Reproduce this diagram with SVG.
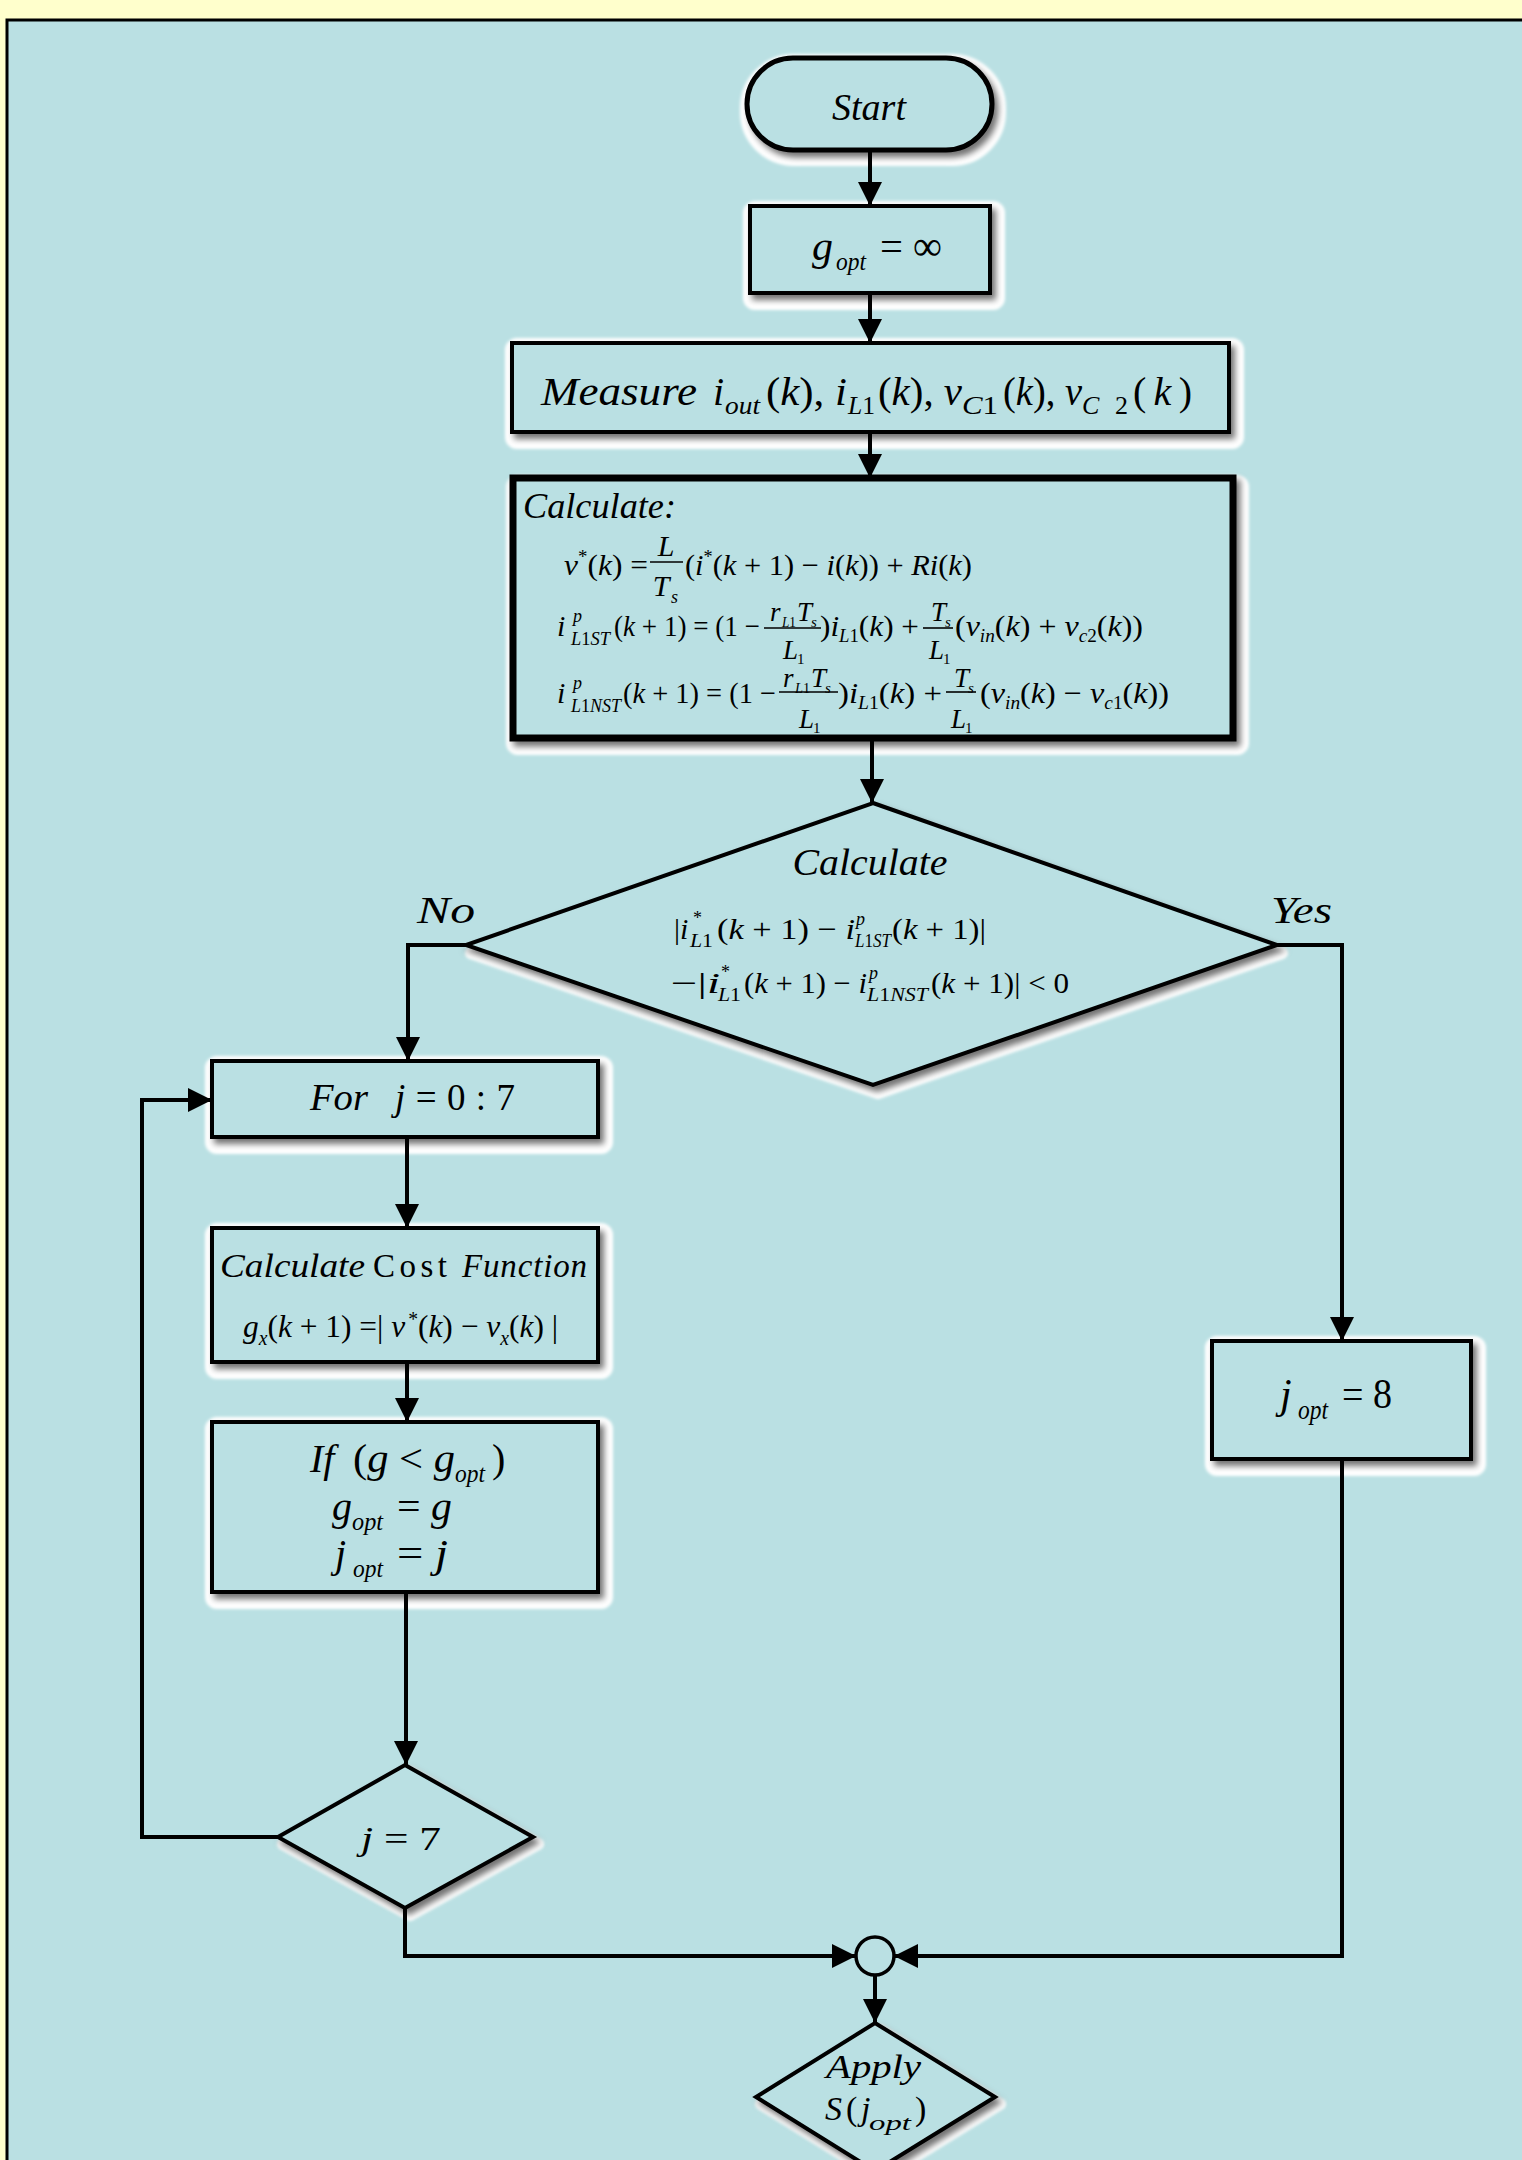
<svg xmlns="http://www.w3.org/2000/svg" width="1522" height="2160" viewBox="0 0 1522 2160">
<defs>
<style>
.m{font-family:"Liberation Serif","Times New Roman",serif;fill:#000}
.i{font-style:italic}
.shape{fill:#BAE0E3;stroke:#000;stroke-width:4;filter:url(#ds)}
.halo{fill:#fff;stroke:#fff;stroke-width:12;stroke-linejoin:round;filter:url(#hb)}
.conn{fill:none;stroke:#000;stroke-width:4}
.bar{stroke:#000;stroke-width:1.6}
</style>
<filter id="ds" x="-10%" y="-10%" width="130%" height="140%"><feDropShadow dx="4" dy="5" stdDeviation="3" flood-color="#000" flood-opacity="0.55"/></filter>
<filter id="hb" x="-10%" y="-10%" width="130%" height="140%"><feGaussianBlur stdDeviation="1.5"/></filter>
<marker id="ah" viewBox="0 0 24 24" refX="24" refY="12" markerWidth="24" markerHeight="24" markerUnits="userSpaceOnUse" orient="auto"><path d="M0,0 L24,12 L0,24 z" fill="#000"/></marker>
</defs>
<rect x="0" y="0" width="1522" height="2160" fill="#FFFFCC"/>
<rect x="7" y="20" width="1530" height="2160" fill="#BAE0E3" stroke="#000" stroke-width="3"/>

<g id="start">
<rect class="halo" x="746" y="60" width="254" height="100" rx="48"/>
<rect class="shape" x="747" y="58" width="245" height="92" rx="46" style="stroke-width:5"/>
<text class="m i" x="869" y="120" font-size="38" text-anchor="middle">Start</text>
</g>

<g id="gopt-init">
<rect class="halo" x="749" y="207" width="250" height="97" rx="6"/>
<rect class="shape" x="750" y="206" width="240" height="87"/>
<text class="m i" x="812" y="260" font-size="42">g</text>
<text class="m i" x="836" y="270" font-size="26" textLength="30" lengthAdjust="spacingAndGlyphs">opt</text>
<text class="m" x="880" y="260" font-size="42" textLength="62" lengthAdjust="spacingAndGlyphs">= ∞</text>
</g>

<g id="measure">
<rect class="halo" x="511" y="344" width="727" height="99" rx="6"/>
<rect class="shape" x="512" y="343" width="717" height="89"/>
<text class="m i" x="541" y="405" font-size="40" textLength="156" lengthAdjust="spacingAndGlyphs">Measure</text>
<text class="m i" x="713" y="405" font-size="40">i</text>
<text class="m i" x="725" y="414" font-size="26" textLength="35" lengthAdjust="spacingAndGlyphs">out</text>
<text class="m" x="766" y="405" font-size="40" textLength="81" lengthAdjust="spacingAndGlyphs">(<tspan class="i">k</tspan>), <tspan class="i">i</tspan></text>
<text class="m" x="848" y="414" font-size="26" textLength="27" lengthAdjust="spacingAndGlyphs"><tspan class="i">L</tspan>1</text>
<text class="m" x="878" y="405" font-size="40" textLength="84" lengthAdjust="spacingAndGlyphs">(<tspan class="i">k</tspan>), <tspan class="i">v</tspan></text>
<text class="m i" x="962" y="414" font-size="26" textLength="36" lengthAdjust="spacingAndGlyphs">C<tspan style="font-style:normal">1</tspan></text>
<text class="m" x="1003" y="405" font-size="40" textLength="79" lengthAdjust="spacingAndGlyphs">(<tspan class="i">k</tspan>), <tspan class="i">v</tspan></text>
<text class="m i" x="1082" y="414" font-size="26" textLength="46" lengthAdjust="spacing">C <tspan style="font-style:normal">2</tspan></text>
<text class="m" x="1133" y="405" font-size="40" textLength="59" lengthAdjust="spacing">(<tspan class="i">k</tspan>)</text>
</g>

<g id="calculate">
<rect class="halo" x="512" y="481" width="731" height="268" rx="6"/>
<rect class="shape" x="513" y="478" width="720" height="260" style="stroke-width:7"/>
<text class="m i" x="523" y="518" font-size="36" textLength="153" lengthAdjust="spacingAndGlyphs">Calculate:</text>
<!-- eq 1 -->
<text class="m" x="564" y="575" font-size="30" textLength="84" lengthAdjust="spacingAndGlyphs"><tspan class="i">v</tspan><tspan dy="-12" font-size="18">*</tspan><tspan dy="12">(</tspan><tspan class="i">k</tspan>) =</text>
<text class="m i" x="666" y="556" font-size="30" text-anchor="middle">L</text>
<line class="bar" x1="650" y1="562" x2="683" y2="562"/>
<text class="m i" x="661" y="596" font-size="30" text-anchor="middle">T</text>
<text class="m i" x="671" y="603" font-size="18">s</text>
<text class="m" x="685" y="575" font-size="30" textLength="287" lengthAdjust="spacingAndGlyphs">(<tspan class="i">i</tspan><tspan dy="-12" font-size="18">*</tspan><tspan dy="12">(</tspan><tspan class="i">k</tspan> + 1) − <tspan class="i">i</tspan>(<tspan class="i">k</tspan>)) + <tspan class="i">Ri</tspan>(<tspan class="i">k</tspan>)</text>
<!-- eq 2 -->
<text class="m i" x="557" y="636" font-size="30">i</text>
<text class="m i" x="573" y="622" font-size="18">p</text>
<text class="m i" x="571" y="645" font-size="18" textLength="39" lengthAdjust="spacingAndGlyphs">L<tspan style="font-style:normal">1</tspan>ST</text>
<text class="m" x="614" y="636" font-size="30" textLength="146" lengthAdjust="spacingAndGlyphs">(<tspan class="i">k</tspan> + 1) = (1 −</text>
<text class="m i" x="770" y="621" font-size="27">r</text>
<text class="m" x="782" y="627" font-size="15" textLength="14" lengthAdjust="spacingAndGlyphs"><tspan class="i">L</tspan>1</text>
<text class="m i" x="797" y="621" font-size="27">T</text>
<text class="m i" x="811" y="627" font-size="15">s</text>
<line class="bar" x1="764" y1="628" x2="821" y2="628"/>
<text class="m i" x="783" y="659" font-size="27">L</text>
<text class="m" x="797" y="664" font-size="15">1</text>
<text class="m" x="820" y="636" font-size="30" textLength="99" lengthAdjust="spacingAndGlyphs">)<tspan class="i">i</tspan><tspan dy="6" font-size="18"><tspan class="i">L</tspan>1</tspan><tspan dy="-6">(</tspan><tspan class="i">k</tspan>) +</text>
<text class="m i" x="931" y="621" font-size="27">T</text>
<text class="m i" x="945" y="627" font-size="15">s</text>
<line class="bar" x1="923" y1="628" x2="953" y2="628"/>
<text class="m i" x="929" y="659" font-size="27">L</text>
<text class="m" x="943" y="664" font-size="15">1</text>
<text class="m" x="955" y="636" font-size="30" textLength="188" lengthAdjust="spacingAndGlyphs">(<tspan class="i">v</tspan><tspan class="i" dy="6" font-size="18">in</tspan><tspan dy="-6">(</tspan><tspan class="i">k</tspan>) + <tspan class="i">v</tspan><tspan dy="6" font-size="18"><tspan class="i">c</tspan>2</tspan><tspan dy="-6">(</tspan><tspan class="i">k</tspan>))</text>
<!-- eq 3 -->
<text class="m i" x="557" y="703" font-size="30">i</text>
<text class="m i" x="573" y="689" font-size="18">p</text>
<text class="m i" x="571" y="712" font-size="18" textLength="50" lengthAdjust="spacingAndGlyphs">L<tspan style="font-style:normal">1</tspan>NST</text>
<text class="m" x="623" y="703" font-size="30" textLength="153" lengthAdjust="spacingAndGlyphs">(<tspan class="i">k</tspan> + 1) = (1 −</text>
<text class="m i" x="783" y="687" font-size="27">r</text>
<text class="m" x="795" y="693" font-size="15" textLength="15" lengthAdjust="spacingAndGlyphs"><tspan class="i">L</tspan>1</text>
<text class="m i" x="811" y="687" font-size="27">T</text>
<text class="m i" x="825" y="693" font-size="15">s</text>
<line class="bar" x1="779" y1="692" x2="838" y2="692"/>
<text class="m i" x="799" y="728" font-size="27">L</text>
<text class="m" x="813" y="733" font-size="15">1</text>
<text class="m" x="838" y="703" font-size="30" textLength="104" lengthAdjust="spacingAndGlyphs">)<tspan class="i">i</tspan><tspan dy="6" font-size="18"><tspan class="i">L</tspan>1</tspan><tspan dy="-6">(</tspan><tspan class="i">k</tspan>) +</text>
<text class="m i" x="954" y="687" font-size="27">T</text>
<text class="m i" x="968" y="693" font-size="15">s</text>
<line class="bar" x1="946" y1="692" x2="976" y2="692"/>
<text class="m i" x="951" y="728" font-size="27">L</text>
<text class="m" x="965" y="733" font-size="15">1</text>
<text class="m" x="980" y="703" font-size="30" textLength="189" lengthAdjust="spacingAndGlyphs">(<tspan class="i">v</tspan><tspan class="i" dy="6" font-size="18">in</tspan><tspan dy="-6">(</tspan><tspan class="i">k</tspan>) − <tspan class="i">v</tspan><tspan dy="6" font-size="18"><tspan class="i">c</tspan>1</tspan><tspan dy="-6">(</tspan><tspan class="i">k</tspan>))</text>
</g>

<g id="decision">
<polygon class="halo" points="878,811 1282,953 878,1093 471,953"/>
<polygon class="shape" points="873,803 1277,945 873,1085 466,945"/>
<text class="m i" x="870" y="875" font-size="38" text-anchor="middle" textLength="155" lengthAdjust="spacingAndGlyphs">Calculate</text>
<text class="m" x="674" y="939" font-size="30">|<tspan class="i">i</tspan></text>
<text class="m" x="693" y="924" font-size="18">*</text>
<text class="m" x="690" y="947" font-size="18" textLength="23" lengthAdjust="spacingAndGlyphs"><tspan class="i">L</tspan>1</text>
<text class="m" x="717" y="939" font-size="30" textLength="138" lengthAdjust="spacingAndGlyphs">(<tspan class="i">k</tspan> + 1) − <tspan class="i">i</tspan></text>
<text class="m i" x="856" y="925" font-size="18">p</text>
<text class="m i" x="855" y="947" font-size="18" textLength="36" lengthAdjust="spacingAndGlyphs">L<tspan style="font-style:normal">1</tspan>ST</text>
<text class="m" x="892" y="939" font-size="30" textLength="94" lengthAdjust="spacingAndGlyphs">(<tspan class="i">k</tspan> + 1)|</text>
<text class="m" x="671" y="993" font-size="30" textLength="49" lengthAdjust="spacingAndGlyphs">−|<tspan class="i">i</tspan></text>
<text class="m" x="721" y="978" font-size="18">*</text>
<text class="m" x="718" y="1001" font-size="18" textLength="23" lengthAdjust="spacingAndGlyphs"><tspan class="i">L</tspan>1</text>
<text class="m" x="744" y="993" font-size="30" textLength="123" lengthAdjust="spacingAndGlyphs">(<tspan class="i">k</tspan> + 1) − <tspan class="i">i</tspan></text>
<text class="m i" x="869" y="979" font-size="18">p</text>
<text class="m i" x="867" y="1001" font-size="18" textLength="61" lengthAdjust="spacingAndGlyphs">L<tspan style="font-style:normal">1</tspan>NST</text>
<text class="m" x="931" y="993" font-size="30" textLength="138" lengthAdjust="spacingAndGlyphs">(<tspan class="i">k</tspan> + 1)| &lt; 0</text>
</g>

<g id="label-no"><text class="m i" x="417" y="923" font-size="38" textLength="58" lengthAdjust="spacingAndGlyphs">No</text></g>
<g id="label-yes"><text class="m i" x="1271" y="923" font-size="38" textLength="61" lengthAdjust="spacingAndGlyphs">Yes</text></g>

<g id="for-loop">
<rect class="halo" x="211" y="1062" width="396" height="86" rx="6"/>
<rect class="shape" x="212" y="1061" width="386" height="76"/>
<text class="m i" x="310" y="1110" font-size="37" textLength="58" lengthAdjust="spacingAndGlyphs">For</text>
<text class="m" x="395" y="1110" font-size="37" textLength="120" lengthAdjust="spacing"><tspan class="i">j</tspan> = 0 : 7</text>
</g>

<g id="cost">
<rect class="halo" x="211" y="1229" width="396" height="144" rx="6"/>
<rect class="shape" x="212" y="1228" width="386" height="134"/>
<text class="m i" x="220" y="1277" font-size="33" textLength="145" lengthAdjust="spacingAndGlyphs">Calculate</text>
<text class="m" x="373" y="1277" font-size="33" textLength="74" lengthAdjust="spacing">Cost</text>
<text class="m i" x="462" y="1277" font-size="33" textLength="125" lengthAdjust="spacing">Function</text>
<text class="m" x="243" y="1337" font-size="32" textLength="315" lengthAdjust="spacingAndGlyphs"><tspan class="i">g</tspan><tspan class="i" dy="8" font-size="20">x</tspan><tspan dy="-8">(</tspan><tspan class="i">k</tspan> + 1) =|<tspan class="i" dx="8">v</tspan><tspan dx="3" dy="-11" font-size="20">*</tspan><tspan dy="11">(</tspan><tspan class="i">k</tspan>) − <tspan class="i">v</tspan><tspan class="i" dy="8" font-size="20">x</tspan><tspan dy="-8">(</tspan><tspan class="i">k</tspan>) |</text>
</g>

<g id="if-block">
<rect class="halo" x="211" y="1423" width="396" height="180" rx="6"/>
<rect class="shape" x="212" y="1422" width="386" height="170"/>
<text class="m i" x="310" y="1472" font-size="40">If</text>
<text class="m" x="353" y="1472" font-size="40" textLength="102" lengthAdjust="spacingAndGlyphs">(<tspan class="i">g</tspan> &lt; <tspan class="i">g</tspan></text>
<text class="m i" x="455" y="1482" font-size="26" textLength="30" lengthAdjust="spacingAndGlyphs">opt</text>
<text class="m" x="492" y="1472" font-size="40">)</text>
<text class="m i" x="332" y="1520" font-size="40">g</text>
<text class="m i" x="352" y="1530" font-size="26" textLength="31" lengthAdjust="spacingAndGlyphs">opt</text>
<text class="m" x="397" y="1520" font-size="40" textLength="55" lengthAdjust="spacingAndGlyphs">= <tspan class="i">g</tspan></text>
<text class="m i" x="335" y="1567" font-size="40">j</text>
<text class="m i" x="353" y="1577" font-size="26" textLength="30" lengthAdjust="spacingAndGlyphs">opt</text>
<text class="m" x="397" y="1567" font-size="40" textLength="51" lengthAdjust="spacingAndGlyphs">= <tspan class="i">j</tspan></text>
</g>

<g id="jopt-8">
<rect class="halo" x="1211" y="1342" width="269" height="128" rx="6"/>
<rect class="shape" x="1212" y="1341" width="259" height="118"/>
<text class="m i" x="1280" y="1408" font-size="42">j</text>
<text class="m i" x="1298" y="1419" font-size="27" textLength="30" lengthAdjust="spacingAndGlyphs">opt</text>
<text class="m" x="1342" y="1408" font-size="42" textLength="50" lengthAdjust="spacingAndGlyphs">= 8</text>
</g>

<g id="check-j">
<polygon class="halo" points="410,1772 538,1844 410,1915 283,1844"/>
<polygon class="shape" points="405,1765 533,1837 405,1908 278,1837"/>
<text class="m" x="361" y="1850" font-size="34" textLength="80" lengthAdjust="spacingAndGlyphs"><tspan class="i">j</tspan> = 7</text>
</g>

<g id="merge">
<circle cx="875" cy="1956" r="19" fill="#BAE0E3" stroke="#000" stroke-width="3.5"/>
</g>

<g id="apply">
<polygon class="halo" points="880,2030 1000,2104 880,2178 761,2104"/>
<polygon class="shape" points="875,2023 995,2097 875,2171 756,2097"/>
<text class="m i" x="826" y="2078" font-size="34" textLength="95" lengthAdjust="spacingAndGlyphs">Apply</text>
<text class="m i" x="825" y="2120" font-size="34">S</text>
<text class="m" x="846" y="2120" font-size="34">(</text>
<text class="m i" x="861" y="2120" font-size="34">j</text>
<text class="m i" x="869" y="2130" font-size="22" textLength="42" lengthAdjust="spacingAndGlyphs">opt</text>
<text class="m" x="915" y="2120" font-size="34">)</text>
</g>

<g id="connectors">
<path class="conn" d="M870,150 V206" marker-end="url(#ah)"/>
<path class="conn" d="M870,293 V343" marker-end="url(#ah)"/>
<path class="conn" d="M870,432 V478" marker-end="url(#ah)"/>
<path class="conn" d="M872,738 V803" marker-end="url(#ah)"/>
<path class="conn" d="M466,945 H408 V1061" marker-end="url(#ah)"/>
<path class="conn" d="M1277,945 H1342 V1341" marker-end="url(#ah)"/>
<path class="conn" d="M407,1137 V1228" marker-end="url(#ah)"/>
<path class="conn" d="M407,1362 V1422" marker-end="url(#ah)"/>
<path class="conn" d="M406,1592 V1765" marker-end="url(#ah)"/>
<path class="conn" d="M278,1837 H142 V1100 H212" marker-end="url(#ah)"/>
<path class="conn" d="M405,1908 V1956 H856" marker-end="url(#ah)"/>
<path class="conn" d="M1342,1459 V1956 H894" marker-end="url(#ah)"/>
<path class="conn" d="M875,1975 V2023" marker-end="url(#ah)"/>
</g>
</svg>
